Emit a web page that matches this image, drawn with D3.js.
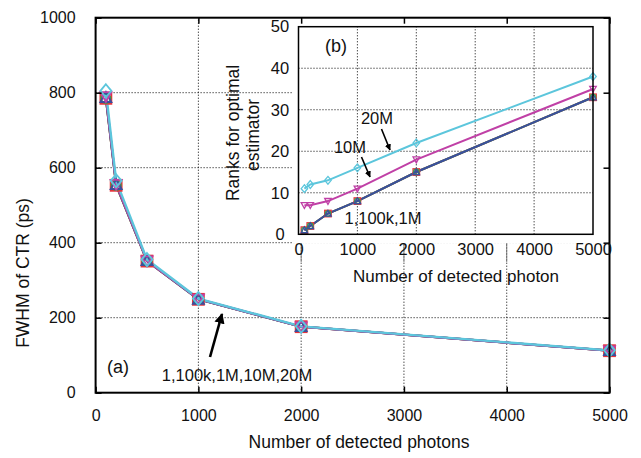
<!DOCTYPE html>
<html>
<head>
<meta charset="utf-8">
<script src="https://cdn.jsdelivr.net/npm/d3@7"></script>
<style>
body { margin: 0; background: #fff; }
text { font-family: "Liberation Sans", Arial, sans-serif; fill: #111; }
</style>
</head>
<body>
<svg id="chart" width="641" height="458"></svg>
<script>
// photons detected
var photons = [100, 200, 500, 1000, 2000, 5000];
var seriesNames = ["1", "100k", "1M", "10M", "20M"];
var colors = ["#e5343b", "#3d9e48", "#3b4f9d", "#c040a6", "#5cc6dc"];
var shapes = ["square", "circle", "triUp", "triDown", "diamond"];

// (a) FWHM of CTR (ps)
var fwhm1 = [785, 553, 351, 249, 176, 112];
var fwhm100k = [785, 553, 351, 249, 176, 112];
var fwhm1M = [787, 555, 352, 249, 176, 112];
var fwhm10M = [790, 556, 352, 250, 176, 112];
var fwhm20M = [805, 565, 355, 251, 177, 113];

// (b) ranks for optimal estimator
var rank1 = [1, 2, 5, 8, 15, 33];
var rank100k = [1, 2, 5, 8, 15, 33];
var rank1M = [1, 2, 5, 8, 15, 33];
var rank10M = [7, 7, 8, 11, 18, 35];
var rank20M = [11, 12, 13, 16, 22, 38];

var xTicks = [0, 1000, 2000, 3000, 4000, 5000];
var yTicksA = [0, 200, 400, 600, 800, 1000];
var yTicksB = [0, 10, 20, 30, 40, 50];

var fwhm = [fwhm1, fwhm100k, fwhm1M, fwhm10M, fwhm20M];
var ranks = [rank1, rank100k, rank1M, rank10M, rank20M];
var fmt = d3.format("d");

var svg = d3.select("#chart");

var defs = svg.append("defs");
defs.append("marker").attr("id", "ah").attr("viewBox", "0 0 10 10")
    .attr("refX", 9).attr("refY", 5).attr("markerWidth", 4).attr("markerHeight", 4)
    .attr("markerUnits", "strokeWidth").attr("orient", "auto")
    .append("path").attr("d", "M0,0 L10,5 L0,10 z").attr("fill", "#000");

// ---- main plot (a)
var x = d3.scaleLinear().domain([0, 5000]).range([95.6, 609.5]);
var y = d3.scaleLinear().domain([0, 1000]).range([392.7, 17.7]);

function dotted(g, x1, y1, x2, y2) {
    g.append("line").attr("x1", x1).attr("y1", y1).attr("x2", x2).attr("y2", y2)
        .attr("stroke", "#000").attr("stroke-width", 1).attr("stroke-dasharray", "1,2");
}

var grid = svg.append("g");
[1000, 2000, 3000, 4000].forEach(function(v) { dotted(grid, x(v), y(0), x(v), y(1000)); });
[200, 400, 600, 800].forEach(function(v) { dotted(grid, x(0), y(v), x(5000), y(v)); });

function drawMarker(g, shape, cx, cy, s, color, sw) {
    var h = s / 2, p;
    if (shape == "square") {
        g.append("rect").attr("x", cx - h).attr("y", cy - h).attr("width", s).attr("height", s)
            .attr("fill", "none").attr("stroke", color).attr("stroke-width", sw);
        return;
    }
    if (shape == "circle") {
        g.append("circle").attr("cx", cx).attr("cy", cy).attr("r", h * 0.85)
            .attr("fill", "none").attr("stroke", color).attr("stroke-width", sw);
        return;
    }
    if (shape == "triUp") p = [[cx, cy - h], [cx + h, cy + h * 0.8], [cx - h, cy + h * 0.8]];
    if (shape == "triDown") p = [[cx, cy + h], [cx + h, cy - h * 0.8], [cx - h, cy - h * 0.8]];
    if (shape == "diamond") p = [[cx, cy - h * 1.2], [cx + h, cy], [cx, cy + h * 1.2], [cx - h, cy]];
    g.append("path").attr("d", "M" + p.join("L") + "Z")
        .attr("fill", "none").attr("stroke", color).attr("stroke-width", sw);
}

var lineA = d3.line().x(function(d, i) { return x(photons[i]); }).y(function(d) { return y(d); });
var plotA = svg.append("g");
fwhm.forEach(function(s, k) {
    plotA.append("path").attr("d", lineA(s)).attr("fill", "none")
        .attr("stroke", colors[k]).attr("stroke-width", k == 4 ? 2.4 : 2.2);
});
fwhm.forEach(function(s, k) {
    s.forEach(function(v, i) { drawMarker(plotA, shapes[k], x(photons[i]), y(v), 11, colors[k], 1.8); });
});

// white box behind the inset
svg.append("rect").attr("x", 292).attr("y", 18.7).attr("width", 316.5).attr("height", 225)
    .attr("fill", "#fff");

// main frame + inward ticks
svg.append("rect").attr("x", x(0)).attr("y", y(1000)).attr("width", x(5000) - x(0))
    .attr("height", y(0) - y(1000)).attr("fill", "none").attr("stroke", "#000").attr("stroke-width", 2);

var axB = svg.append("g").attr("transform", "translate(0," + y(0) + ")")
    .call(d3.axisBottom(x).tickValues(xTicks).tickFormat(fmt).tickSizeInner(-6).tickSizeOuter(0).tickPadding(17));
var axT = svg.append("g").attr("transform", "translate(0," + y(1000) + ")")
    .call(d3.axisTop(x).tickValues(xTicks).tickSizeInner(-6).tickSizeOuter(0).tickFormat(""));
var axL = svg.append("g").attr("transform", "translate(" + x(0) + ",0)")
    .call(d3.axisLeft(y).tickValues(yTicksA).tickFormat(fmt).tickSizeInner(-6).tickSizeOuter(0).tickPadding(20));
var axR = svg.append("g").attr("transform", "translate(" + x(5000) + ",0)")
    .call(d3.axisRight(y).tickValues(yTicksA).tickSizeInner(-6).tickSizeOuter(0).tickFormat(""));
[axB, axT, axL, axR].forEach(function(a) {
    a.select(".domain").remove();
    a.selectAll("line").attr("stroke", "#000").attr("stroke-width", 1.5);
    a.selectAll("text").attr("font-size", 16).attr("font-family", "Liberation Sans, Arial, sans-serif").attr("fill", "#111");
});

svg.append("text").attr("x", 359).attr("y", 448).attr("text-anchor", "middle")
    .attr("font-size", 17.5).text("Number of detected photons");
svg.append("text").attr("transform", "translate(29,273) rotate(-90)").attr("text-anchor", "middle")
    .attr("font-size", 17.5).text("FWHM of CTR (ps)");
svg.append("text").attr("x", 107).attr("y", 373).attr("font-size", 18).text("(a)");
svg.append("text").attr("x", 237).attr("y", 381).attr("text-anchor", "middle")
    .attr("font-size", 16.5).text("1,100k,1M,10M,20M");
svg.append("line").attr("x1", 210).attr("y1", 357).attr("x2", 222).attr("y2", 314)
    .attr("stroke", "#000").attr("stroke-width", 2.6).attr("marker-end", "url(#ah)");

// ---- inset (b)
var xi = d3.scaleLinear().domain([0, 5000]).range([298.5, 593]);
var yi = d3.scaleLinear().domain([0, 50]).range([234.3, 26.7]);

var gridB = svg.append("g");
[1000, 2000, 3000, 4000].forEach(function(v) { dotted(gridB, xi(v), yi(0), xi(v), yi(50)); });
[10, 20, 30, 40].forEach(function(v) { dotted(gridB, xi(0), yi(v), xi(5000), yi(v)); });
// main vertical grid continues under the inset
[2000, 3000, 4000].forEach(function(v) { dotted(gridB, x(v), 243.5, x(v), 262); });

var lineB = d3.line().x(function(d, i) { return xi(photons[i]); }).y(function(d) { return yi(d); });
var plotB = svg.append("g");
ranks.forEach(function(s, k) {
    plotB.append("path").attr("d", lineB(s)).attr("fill", "none")
        .attr("stroke", colors[k]).attr("stroke-width", 2);
});
ranks.forEach(function(s, k) {
    s.forEach(function(v, i) { drawMarker(plotB, shapes[k], xi(photons[i]), yi(v), 6.5, colors[k], 1.3); });
});

svg.append("rect").attr("x", xi(0)).attr("y", yi(50)).attr("width", xi(5000) - xi(0))
    .attr("height", yi(0) - yi(50)).attr("fill", "none").attr("stroke", "#000").attr("stroke-width", 1.5);

var bxB = svg.append("g").attr("transform", "translate(0," + yi(0) + ")")
    .call(d3.axisBottom(xi).tickValues(xTicks).tickFormat(fmt).tickSize(0).tickPadding(9));
var bxL = svg.append("g").attr("transform", "translate(" + xi(0) + ",0)")
    .call(d3.axisLeft(yi).tickValues(yTicksB).tickFormat(fmt).tickSize(0).tickPadding(18));
[bxB, bxL].forEach(function(a) {
    a.select(".domain").remove();
    a.selectAll("text").attr("font-size", 16.5).attr("font-family", "Liberation Sans, Arial, sans-serif").attr("fill", "#111");
});
bxL.selectAll("text").attr("text-anchor", "middle").attr("x", 280 - xi(0));

svg.append("text").attr("x", 456).attr("y", 282).attr("text-anchor", "middle")
    .attr("font-size", 17).text("Number of detected photon");
svg.append("text").attr("transform", "translate(239,133) rotate(-90)").attr("text-anchor", "middle")
    .attr("font-size", 17.5).text("Ranks for optimal");
svg.append("text").attr("transform", "translate(259,135) rotate(-90)").attr("text-anchor", "middle")
    .attr("font-size", 17.5).text("estimator");
svg.append("text").attr("x", 325).attr("y", 52).attr("font-size", 18).text("(b)");

svg.append("text").attr("x", 377).attr("y", 124).attr("text-anchor", "middle")
    .attr("font-size", 16.5).text("20M");
svg.append("line").attr("x1", 381.5).attr("y1", 129).attr("x2", 390).attr("y2", 150)
    .attr("stroke", "#000").attr("stroke-width", 1.6).attr("marker-end", "url(#ah)");
svg.append("text").attr("x", 350).attr("y", 153).attr("text-anchor", "middle")
    .attr("font-size", 16.5).text("10M");
svg.append("line").attr("x1", 361.5).attr("y1", 157).attr("x2", 370).attr("y2", 177)
    .attr("stroke", "#000").attr("stroke-width", 1.6).attr("marker-end", "url(#ah)");
svg.append("text").attr("x", 383).attr("y", 224).attr("text-anchor", "middle")
    .attr("font-size", 16.5).text("1,100k,1M");
</script>
</body>
</html>
